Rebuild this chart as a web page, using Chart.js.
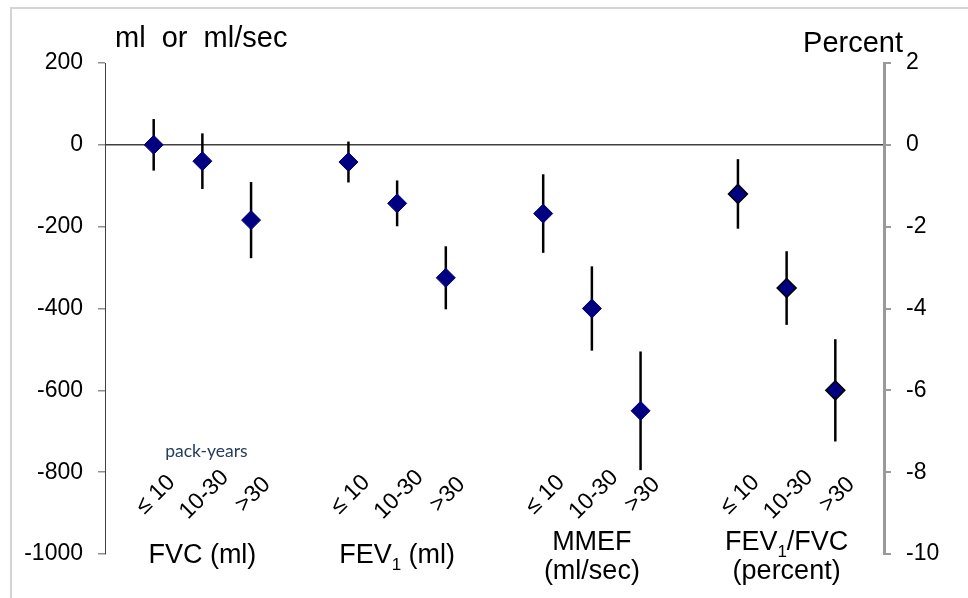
<!DOCTYPE html>
<html>
<head>
<meta charset="utf-8">
<script src="https://cdn.jsdelivr.net/npm/chart.js@4.4.0/dist/chart.umd.min.js"></script>
<style>
html,body{margin:0;padding:0;background:#fff;overflow:hidden;}
#frame{position:absolute;left:10px;top:7px;width:980px;height:620px;border-top:2px solid #d4d4d4;border-left:2px solid #d4d4d4;}
#wrap{position:absolute;left:0;top:0;width:968px;height:598px;}
</style>
</head>
<body>
<div id="frame"></div>
<div id="wrap"><canvas id="myChart" width="968" height="598"></canvas></div>
<script>
// groups on the x axis, "_1" marks a subscript, "|" a line break
const groupLabels = ['FVC (ml)', 'FEV_1 (ml)', 'MMEF|(ml/sec)', 'FEV_1/FVC|(percent)']
const packYears = ['\u2264 10', '10-30', '>30']

// mean change and half length of the bar (ml or ml/sec)
const fvcMean = [0, -40, -184]
const fvcErr = [63, 68, 93]
const fev1Mean = [-42, -143, -325]
const fev1Err = [50, 56, 77]
const mmefMean = [-168, -400, -650]
const mmefErr = [96, 103, 145]
// FEV1/FVC in percent, right axis
const ratioMean = [-1.2, -3.5, -6.0]
const ratioErr = [0.85, 0.9, 1.25]

const mlTicks = [200, 0, -200, -400, -600, -800, -1000]
const pctTicks = [2, 0, -2, -4, -6, -8, -10]

const sans = '"Liberation Sans", Arial, sans-serif'
const slot = (g, i) => g * 4 + i

let mlPoints = []
let mlBars = []
;[[fvcMean, fvcErr], [fev1Mean, fev1Err], [mmefMean, mmefErr]].forEach(([m, e], g) => {
  m.forEach((v, i) => {
    mlPoints.push({x: slot(g, i), y: v})
    mlBars.push({x: slot(g, i), y: [v - e[i], v + e[i]]})
  })
})
const pctPoints = ratioMean.map((v, i) => ({x: slot(3, i), y: v}))
const pctBars = ratioMean.map((v, i) => ({x: slot(3, i), y: [v - ratioErr[i], v + ratioErr[i]]}))

const drawLabel = (ctx, text, cx, y, size) => {
  const parts = text.split(/_(\d)/)
  const fonts = parts.map((p, k) => k % 2 ? `${Math.round(size * 0.62)}px ${sans}` : `${size}px ${sans}`)
  let w = 0
  parts.forEach((p, k) => { ctx.font = fonts[k]; w += ctx.measureText(p).width })
  let x = cx - w / 2
  ctx.textAlign = 'left'
  parts.forEach((p, k) => {
    ctx.font = fonts[k]
    ctx.fillText(p, x, k % 2 ? y + size * 0.26 : y)
    x += ctx.measureText(p).width
  })
}

const textPlugin = {
  id: 'texts',
  afterDraw(chart) {
    const ctx = chart.ctx
    const xs = chart.scales.x
    const ys = chart.scales.y
    const bottom = chart.chartArea.bottom
    ctx.save()
    ctx.fillStyle = '#000'
    ctx.textBaseline = 'alphabetic'

    ctx.font = `29px ${sans}`
    ctx.textAlign = 'left'
    ctx.fillText('ml  or  ml/sec', 115, 47)
    ctx.textAlign = 'right'
    ctx.fillText('Percent', 903, 52)

    ctx.font = '17.5px Lato, "Open Sans", sans-serif'
    ctx.fillStyle = '#243b5e'
    ctx.textAlign = 'center'
    ctx.fillText('pack-years', xs.getPixelForValue(slot(0, 1)) + 4, 457)

    ctx.fillStyle = '#000'
    groupLabels.forEach((label, g) => {
      packYears.forEach((p, i) => {
        ctx.save()
        ctx.translate(xs.getPixelForValue(slot(g, i)) + 2, ys.getPixelForValue(-855))
        ctx.rotate(-Math.PI / 4)
        ctx.font = `23px ${sans}`
        ctx.textAlign = 'center'
        ctx.textBaseline = 'middle'
        ctx.fillText(p, 0, 0)
        ctx.restore()
      })
      const lines = label.split('|')
      const cx = xs.getPixelForValue(slot(g, 1))
      if (lines.length === 1) {
        drawLabel(ctx, lines[0], cx, bottom + 9, 27)
      } else {
        drawLabel(ctx, lines[0], cx, bottom - 4, 27)
        drawLabel(ctx, lines[1], cx, bottom + 25, 27)
      }
    })
    ctx.restore()
  }
}

const ctx = document.getElementById('myChart')

new Chart(ctx, {
  type: 'scatter',
  data: {
    datasets: [
      {type: 'bar', data: mlBars, backgroundColor: '#000', grouped: false, maxBarThickness: 2.5, yAxisID: 'y', order: 2},
      {type: 'bar', data: pctBars, backgroundColor: '#000', grouped: false, maxBarThickness: 2.5, yAxisID: 'y2', order: 2},
      {data: mlPoints, pointStyle: 'rectRot', pointRadius: 9.5, backgroundColor: '#000080', borderColor: '#000080', borderWidth: 1, yAxisID: 'y', order: 1},
      {data: pctPoints, pointStyle: 'rectRot', pointRadius: 9.5, backgroundColor: '#000080', borderColor: '#000', borderWidth: 1.5, yAxisID: 'y2', order: 1}
    ]
  },
  options: {
    responsive: false,
    animation: false,
    layout: {padding: {top: 63, bottom: 44, left: 0, right: 0}},
    plugins: {legend: {display: false}, tooltip: {enabled: false}},
    scales: {
      x: {type: 'linear', min: -1, max: 15, offset: false, display: false, grid: {offset: false}},
      y: {
        position: 'left', min: -1000, max: 200,
        afterBuildTicks: s => { s.ticks = mlTicks.map(v => ({value: v})) },
        afterFit: s => { s.width = 105 },
        border: {color: '#404040', width: 1},
        grid: {
          color: c => (c.tick && c.tick.value === 0) ? '#404040' : 'rgba(0,0,0,0)',
          lineWidth: 1.5, tickColor: '#909090', tickLength: 7
        },
        ticks: {font: {family: sans, size: 23}, color: '#000', padding: 15, callback: v => String(v)}
      },
      y2: {
        position: 'right', min: -10, max: 2,
        afterBuildTicks: s => { s.ticks = pctTicks.map(v => ({value: v})) },
        afterFit: s => { s.width = 84 },
        border: {color: '#9a9a9a', width: 3},
        grid: {drawOnChartArea: false, tickColor: '#9a9a9a', tickLength: 7, lineWidth: 2},
        ticks: {font: {family: sans, size: 23}, color: '#000', padding: 15, callback: v => String(v)}
      }
    }
  },
  plugins: [textPlugin]
})
</script>
</body>
</html>
